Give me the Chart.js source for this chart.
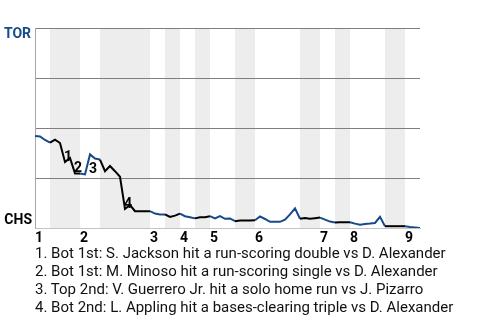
<!DOCTYPE html>
<html>
<head>
<meta charset="utf-8">
<script src="https://cdn.jsdelivr.net/npm/chart.js@4"></script>
<style>
    html, body { margin: 0; padding: 0; background: #fff; }
    body { width: 480px; height: 320px; position: relative; overflow: hidden; font-family: Roboto, sans-serif; }
    #wrap { position: absolute; left: 0; top: 0; width: 480px; height: 248px; }
    #plays { position: absolute; left: 35px; top: 244px; margin: 0; padding: 0; list-style: none;
             font-size: 15px; line-height: 18px; color: #111; white-space: nowrap; }
</style>
</head>
<body>
<div id="wrap"><canvas id="wpChart"></canvas></div>
<ul id="plays"></ul>
<script>
// Win probability for TOR (percent), one value per plate appearance
const winProb = [
    46, 45.8, 44, 42.7, 44.2, 42.5, 33, 35, 27.3, 27.3,
    26.8, 36.8, 34.7, 34.2, 28.4, 31, 28.4, 25.6, 9.5, 11.5,
    8.4, 8.4, 8.4, 8.4, 7.2, 6.8, 6.8, 5.5, 6.2, 7.2,
    5.9, 5.4, 4.8, 5.4, 5.4, 5.9, 4.8, 5.9, 4.6, 4.8,
    3.4, 3.8, 3.8, 3.8, 3.9, 5.8, 4.5, 3.1, 3.1, 3.1,
    4.2, 6.8, 9.8, 4.6, 5, 4.6, 4.9, 5.2, 4.2, 3.2,
    2.8, 2.9, 2.9, 2.9, 2.2, 1.6, 2, 2.2, 2.5, 5.6,
    0.9, 0.9, 0.9, 0.9, 0.9, 0.5, 0.3, 0
];

// Plate appearance index where each half inning starts (last one = end of game)
const halfInningStarts = [0, 3, 9, 13, 23, 26, 29, 32, 35, 40, 44, 53, 57, 60, 63, 70, 74, 77];
const inningLabels = ['1', '2', '3', '4', '5', '6', '7', '8', '9'];

// Key plays
const eventIndex = [6, 8, 11, 18];
const eventLabels = ['1', '2', '3', '4'];
const eventText = [
    'Bot 1st: S. Jackson hit a run-scoring double vs D. Alexander',
    'Bot 1st: M. Minoso hit a run-scoring single vs D. Alexander',
    'Top 2nd: V. Guerrero Jr. hit a solo home run vs J. Pizarro',
    'Bot 2nd: L. Appling hit a bases-clearing triple vs D. Alexander'
];

const awayTeam = 'TOR';
const homeTeam = 'CHS';
const awayColor = '#174a8b';
const homeColor = '#000000';

const inningStarts = halfInningStarts.filter((v, i) => i % 2 === 0 && i < halfInningStarts.length - 1);

function isBottomHalf(idx) {
    for (let k = 0; k < halfInningStarts.length - 1; k++) {
        if (idx >= halfInningStarts[k] && idx < halfInningStarts[k + 1]) return k % 2 === 1;
    }
    return false;
}

// list of plays under the chart
const list = document.getElementById('plays');
eventText.forEach((t, i) => {
    const li = document.createElement('li');
    li.textContent = `${eventLabels[i]}. ${t}`;
    list.appendChild(li);
});

// shaded bottom halves + team names + inning numbers + play markers
const decorPlugin = {
    id: 'decor',
    beforeDraw(chart) {
        const { ctx, chartArea, scales } = chart;
        ctx.save();
        ctx.fillStyle = '#ededed';
        for (let k = 1; k < halfInningStarts.length - 1; k += 2) {
            const x0 = scales.x.getPixelForValue(halfInningStarts[k]);
            const x1 = scales.x.getPixelForValue(halfInningStarts[k + 1]);
            ctx.fillRect(x0, chartArea.top, x1 - x0, chartArea.bottom - chartArea.top);
        }
        ctx.restore();
    },
    afterDraw(chart) {
        const { ctx, scales, chartArea } = chart;
        ctx.save();
        ctx.font = 'bold 14px Roboto, sans-serif';
        ctx.textAlign = 'right';
        ctx.textBaseline = 'middle';
        ctx.fillStyle = awayColor;
        ctx.fillText(awayTeam, 31, scales.y.getPixelForValue(100) + 6);
        ctx.fillStyle = homeColor;
        ctx.fillText(homeTeam, 32, scales.y.getPixelForValue(0) - 8);

        // inning numbers, left aligned on the start of each inning
        ctx.textAlign = 'left';
        inningStarts.forEach((v, i) => {
            ctx.fillText(inningLabels[i], scales.x.getPixelForValue(v), chartArea.bottom + 10);
        });

        ctx.textAlign = 'center';
        eventIndex.forEach((idx, i) => {
            const lowVal = Math.min(winProb[idx], winProb[idx - 1]);
            const px = scales.x.getPixelForValue(idx) + 3;
            const py = scales.y.getPixelForValue(lowVal) - 5;
            ctx.fillText(eventLabels[i], px, py);
        });
        ctx.restore();
    }
};

const ctx = document.getElementById('wpChart').getContext('2d');
new Chart(ctx, {
    type: 'line',
    data: {
        datasets: [{
            data: winProb.map((v, i) => ({ x: i, y: v })),
            borderWidth: 2,
            pointRadius: 0,
            tension: 0,
            fill: false,
            borderColor: awayColor,
            segment: {
                borderColor: c => isBottomHalf(c.p0DataIndex) ? homeColor : awayColor
            }
        }]
    },
    options: {
        responsive: true,
        maintainAspectRatio: false,
        animation: false,
        layout: { padding: { top: 28, right: 60, left: 0, bottom: 0 } },
        plugins: {
            legend: { display: false },
            tooltip: { enabled: false }
        },
        scales: {
            x: {
                type: 'linear',
                min: 0,
                max: halfInningStarts[halfInningStarts.length - 1],
                afterFit: scale => { scale.height = 20; },
                grid: { display: false },
                border: { color: '#c4c4c4', width: 1 },
                ticks: { display: false }
            },
            y: {
                min: 0,
                max: 100,
                afterFit: scale => { scale.width = 35; },
                ticks: { display: false, stepSize: 25 },
                grid: {
                    drawTicks: false,
                    color: c => c.tick.value === 0 ? '#c4c4c4' : '#7f7f7f',
                    lineWidth: 1
                },
                border: { color: '#a8a8a8', width: 1 }
            }
        }
    },
    plugins: [decorPlugin]
});
</script>
</body>
</html>
